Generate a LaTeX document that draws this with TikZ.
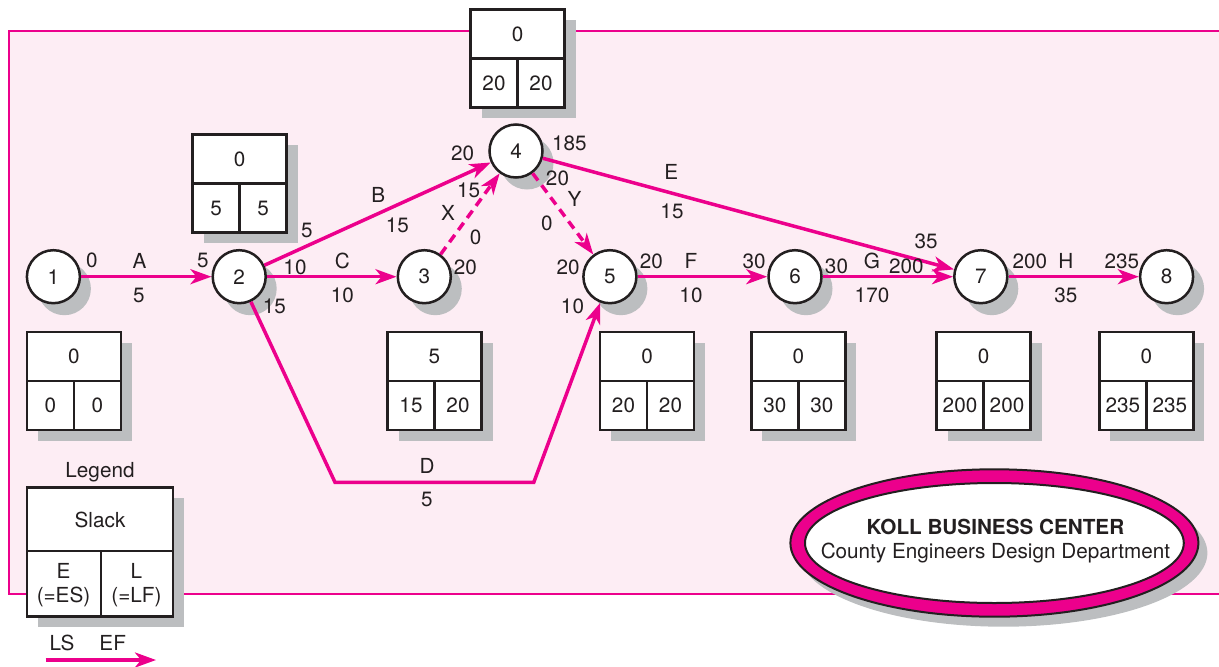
\documentclass[tikz,border=0pt]{standalone}
\usepackage{fontspec}
\setmainfont{TeX Gyre Heros}
\usetikzlibrary{arrows.meta}
\definecolor{mag}{HTML}{EC008C}
\definecolor{pinkbg}{HTML}{FDEDF4}
\definecolor{shd}{HTML}{BCBEC0}
\definecolor{ink}{HTML}{231F20}

\newcommand{\slbox}[6]{%
  \fill[shadowc] (#2+11,#3+11) rectangle ++(94,98);
  \draw[boxline, fill=white] (#2,#3) rectangle ++(94,98);
  \draw[boxline] (#2,#3+49) -- ++(94,0) (#2+47,#3+49) -- ++(0,49);
  \node[lbl] (#1t) at (#2+47,#3+24.5) {#4};
  \node[lbl] (#1l) at (#2+23.5,#3+73.5) {#5};
  \node[lbl] (#1r) at (#2+70.5,#3+73.5) {#6};
}

\begin{document}
\begin{tikzpicture}[x=1pt,y=-1pt,
  lbl/.style={inner sep=0pt, text height=14.9pt, text depth=0pt, font=\fontsize{20.7}{25}\selectfont, text=ink},
  ev/.style={circle, draw=ink, line width=2.5pt, fill=white, minimum size=53pt, inner sep=0pt, font=\fontsize{20.7}{25}\selectfont, text=ink},
  edge/.style={draw=mag, line width=3.5pt, -{Stealth[length=21pt,width=15pt,inset=6pt]}},
  dedge/.style={edge, dash pattern=on 9pt off 6pt},
  boxline/.style={draw=ink, line width=2.5pt},
  shadowc/.style={fill=shd},
]
\useasboundingbox (0,0) rectangle (1219,667);

% frame
\draw[draw=mag, line width=2pt, fill=pinkbg] (8.7,31.3) rectangle (1240,594.3);

% node shadows
\foreach \x/\y in {53.4/276.7, 239.2/276.7, 424.3/276.7, 516/151, 609.9/276.7, 795/276.7, 980.8/276.7, 1166.6/276.7}
  \fill[shadowc] (\x+11,\y+12) circle[radius=26.5pt];

% event nodes
\node[ev] (n1) at (53.4,276.7) {1};
\node[ev] (n2) at (239.2,276.7) {2};
\node[ev] (n3) at (424.3,276.7) {3};
\node[ev] (n4) at (516,151) {4};
\node[ev] (n5) at (609.9,276.7) {5};
\node[ev] (n6) at (795,276.7) {6};
\node[ev] (n7) at (980.8,276.7) {7};
\node[ev] (n8) at (1166.6,276.7) {8};

% connectors
\coordinate (d1) at (335,482.3);
\coordinate (d2) at (533.8,482.3);
\draw[edge] (n1) -- (n2);
\draw[edge] (n2) -- (n4);
\draw[edge] (n2) -- (n3);
\draw[edge, line join=miter] (n2) -- (d1) -- (d2) -- (n5);
\draw[dedge] (n3) -- (n4);
\draw[dedge] (n4) -- (n5);
\draw[edge] (n4) -- (n7);
\draw[edge] (n5) -- (n6);
\draw[edge] (n6) -- (n7);
\draw[edge] (n7) -- (n8);

% slack boxes
\slbox{b1}{27}{332}{0}{0}{0}
\slbox{b2}{192.6}{134.3}{0}{5}{5}
\slbox{b3}{387.5}{332}{5}{15}{20}
\slbox{b4}{470.5}{9.3}{0}{20}{20}
\slbox{b5}{600}{332}{0}{20}{20}
\slbox{b6}{751.4}{332}{0}{30}{30}
\slbox{b7}{936.5}{332}{0}{200}{200}
\slbox{b8}{1099.4}{332}{0}{235}{235}

% edge labels
\node[lbl] (t1) at (92,260) {0};
\node[lbl] (tA) at (139.6,261) {A};
\node[lbl] (tA2) at (139,295) {5};
\node[lbl] (t2) at (203,260) {5};
\node[lbl] (tB1) at (307,230) {5};
\node[lbl] (tB) at (378.4,195) {B};
\node[lbl] (tB2) at (397.4,225) {15};
\node[lbl] (tC1) at (295,266.7) {10};
\node[lbl] (tC) at (342.4,261) {C};
\node[lbl] (tC2) at (342.4,295) {10};
\node[lbl] (tD1) at (274.4,306) {15};
\node[lbl] (tB3) at (462.6,153.3) {20};
\node[lbl] (tX3) at (468.6,190) {15};
\node[lbl] (tX) at (448,213.3) {X};
\node[lbl] (tX2) at (475.7,237.3) {0};
\node[lbl] (tX1) at (465.4,266.7) {20};
\node[lbl] (tE1) at (569.4,143.3) {185};
\node[lbl] (tY1) at (557.5,178.3) {20};
\node[lbl] (tY) at (574.5,199.3) {Y};
\node[lbl] (tY2) at (546.8,222.7) {0};
\node[lbl] (tY3) at (568.2,266.7) {20};
\node[lbl] (tD3) at (572.5,306) {10};
\node[lbl] (tE) at (671.2,172.3) {E};
\node[lbl] (tE2) at (672,210.7) {15};
\node[lbl] (tE3) at (926.2,240.7) {35};
\node[lbl] (tF1) at (651.4,260.7) {20};
\node[lbl] (tF) at (691,260.7) {F};
\node[lbl] (tF2) at (691,295) {10};
\node[lbl] (tF3) at (754.2,260.7) {30};
\node[lbl] (tG1) at (836.5,265.7) {30};
\node[lbl] (tG) at (872,260.7) {G};
\node[lbl] (tG3) at (906.4,265.7) {200};
\node[lbl] (tG2) at (872,295) {170};
\node[lbl] (tH1) at (1029.8,260.7) {200};
\node[lbl] (tH) at (1065.8,260.7) {H};
\node[lbl] (tH2) at (1065.8,295) {35};
\node[lbl] (tH3) at (1121.9,260.7) {235};
\node[lbl] (tD) at (427,465.7) {D};
\node[lbl] (tD2) at (427,499) {5};

% title ellipse
\fill[shadowc] (1003.4,553) ellipse[x radius=204pt, y radius=73.7pt];
\draw[draw=ink, line width=2pt, fill=mag] (994.4,543) ellipse[x radius=204pt, y radius=73.7pt];
\draw[draw=ink, line width=2pt, fill=white] (994.4,543) ellipse[x radius=189.4pt, y radius=60pt];
\node[lbl, font=\fontsize{20.7}{25}\selectfont\bfseries] (title) at (995.4,526.7) {KOLL BUSINESS CENTER};
\node[lbl] (subtitle) at (995.4,550.7) {County Engineers Design Department};

% legend
\node[lbl] (leg) at (100,470) {Legend};
\fill[shadowc] (38,498.3) rectangle ++(146,129);
\draw[boxline, fill=white] (27,487.3) rectangle ++(146,129);
\draw[boxline] (27,551) -- ++(146,0) (101,551) -- (101,616.3);
\node[lbl] (lgs) at (100,520) {Slack};
\node[lbl] (lge) at (63.5,571) {E};
\node[lbl] (lges) at (63.5,595.5) {(=ES)};
\node[lbl] (lgl) at (136.5,571) {L};
\node[lbl] (lgls) at (136.5,595.5) {(=LF)};
\node[lbl] (lls) at (62,643.3) {LS};
\node[lbl] (lef) at (112.7,643.3) {EF};
\coordinate (la1) at (45.5,660);
\coordinate (la2) at (156,660);
\draw[edge] (la1) -- (la2);
\end{tikzpicture}
\end{document}
